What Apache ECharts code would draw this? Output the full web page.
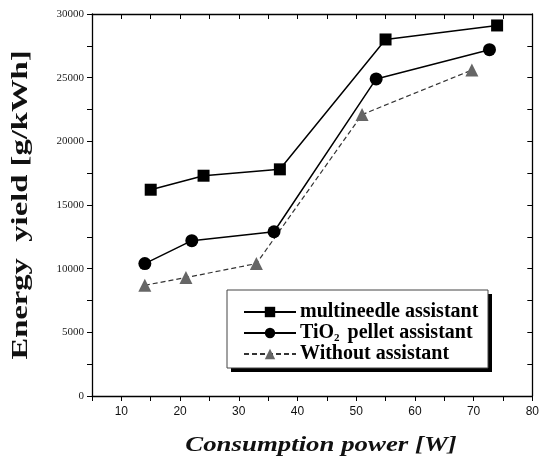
<!DOCTYPE html>
<html><head><meta charset="utf-8">
<script src="https://cdn.jsdelivr.net/npm/echarts@6/dist/echarts.min.js"></script>
<style>html,body{margin:0;padding:0;background:#fff}#c{width:542px;height:461px}</style>
</head><body><div id="c"></div>
<script>
const xMultineedle = [15, 24, 37, 55, 74];
const yMultineedle = [16200, 17300, 17800, 28000, 29100];
const xTiO2 = [14, 22, 36, 53.4, 72.7];
const yTiO2 = [10400, 12200, 12900, 24900, 27200];
const xWithout = [14, 21, 33, 51, 69.7];
const yWithout = [8700, 9300, 10400, 22100, 25600];
const seriesNames = ['multineedle assistant', 'TiO2 pellet assistant', 'Without assistant'];
const xTickLabels = [10, 20, 30, 40, 50, 60, 70, 80];
const yTickLabels = [0, 5000, 10000, 15000, 20000, 25000, 30000];
const xTitle = 'Consumption power [W]';
const yTitle = 'Energy  yield [g/kWh]';

const zip = (xs, ys) => xs.map((x, i) => [x, ys[i]]);
const chart = echarts.init(document.getElementById('c'));
const serif = '"Liberation Serif","Times New Roman",serif';
const axisCommon = {
  axisLine: {show: true, onZero: false, lineStyle: {color: '#000', width: 1.3}},
  splitLine: {show: false}
};
const legendRowTops = [302, 323, 344];
const legends = seriesNames.map((n, i) => ({
  orient: 'vertical', left: 243, top: legendRowTops[i],
  itemWidth: 52, itemHeight: 13, padding: 0,
  formatter: nm => nm === seriesNames[1] ? 'TiO{sub|2} pellet assistant' : nm,
  textStyle: {
    fontFamily: serif, fontWeight: 'bold', fontSize: 20, color: '#000', padding: [0, 0, 0, -1],
    rich: {sub: {fontFamily: serif, fontWeight: 'bold', fontSize: 11, verticalAlign: 'bottom', padding: [10, 3, 0, 0], color: '#000'}}
  },
  data: [n]
}));
chart.setOption({
  animation: false,
  backgroundColor: '#fff',
  grid: {left: 92, right: 4, top: 14, bottom: 65},
  xAxis: [
    Object.assign({}, axisCommon, {
      type: 'value', min: 5, max: 80, interval: 5, position: 'bottom',
      axisTick: {show: true, length: 5, lineStyle: {color: '#000'}},
      axisLabel: {
        formatter: v => xTickLabels.includes(v) ? String(v) : '',
        color: '#111', fontFamily: '"Liberation Sans",Arial,sans-serif', fontSize: 12, margin: 10
      }
    }),
    Object.assign({}, axisCommon, {
      type: 'value', min: 5, max: 80, interval: 5, position: 'top',
      axisTick: {show: true, inside: true, length: 5, lineStyle: {color: '#000'}},
      axisLabel: {show: false}
    })
  ],
  yAxis: [
    Object.assign({}, axisCommon, {
      type: 'value', min: 0, max: 30000, interval: 2500, position: 'left',
      axisTick: {show: true, length: 5, lineStyle: {color: '#000'}},
      axisLabel: {
        formatter: v => yTickLabels.includes(v) ? String(v) : '',
        color: '#222', fontFamily: serif, fontSize: 11, margin: 8
      }
    }),
    Object.assign({}, axisCommon, {
      type: 'value', min: 0, max: 30000, interval: 2500, position: 'right',
      axisTick: {show: true, inside: true, length: 5, lineStyle: {color: '#000'}},
      axisLabel: {show: false}
    })
  ],
  graphic: [
    {type: 'rect', z: 3, shape: {x: 231, y: 294, width: 261, height: 78}, style: {fill: '#000'}},
    {type: 'rect', z: 3, shape: {x: 227, y: 290, width: 261, height: 78}, style: {fill: '#fff', stroke: '#444', lineWidth: 1}},
    {type: 'text', z: 3, x: 321, y: 445, scaleX: 1.22,
     style: {text: xTitle, fontFamily: serif, fontStyle: 'italic', fontWeight: 'bold', fontSize: 22, fill: '#111', align: 'center', verticalAlign: 'middle'}},
    {type: 'text', z: 3, x: 21, y: 205, rotation: Math.PI / 2, scaleX: 1.36,
     style: {text: yTitle, fontFamily: serif, fontWeight: 'bold', fontSize: 24, fill: '#111', align: 'center', verticalAlign: 'middle'}}
  ],
  legend: legends,
  series: [
    {name: seriesNames[0], type: 'line', data: zip(xMultineedle, yMultineedle),
     symbol: 'rect', symbolSize: 12, itemStyle: {color: '#000'},
     lineStyle: {color: '#000', width: 1.5}},
    {name: seriesNames[1], type: 'line', data: zip(xTiO2, yTiO2),
     symbol: 'circle', symbolSize: 13, itemStyle: {color: '#000'},
     lineStyle: {color: '#000', width: 1.5}},
    {name: seriesNames[2], type: 'line', data: zip(xWithout, yWithout),
     symbol: 'triangle', symbolSize: 13, itemStyle: {color: '#666'},
     lineStyle: {color: '#333', width: 1.2, type: [5, 3]}}
  ]
});
</script></body></html>
